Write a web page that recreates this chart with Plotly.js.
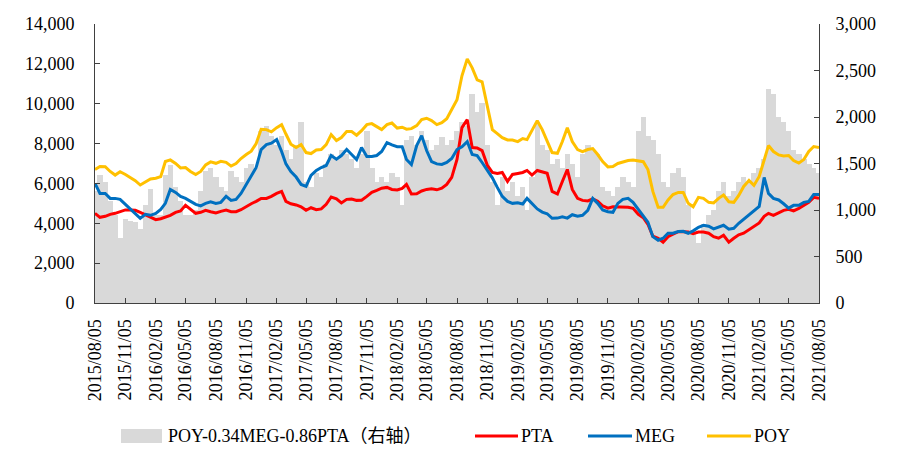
<!DOCTYPE html>
<html>
<head>
<meta charset="utf-8">
<script src="https://cdn.plot.ly/plotly-3.0.1.min.js"></script>
<style>html,body{margin:0;padding:0;background:#fff;}#chart{width:910px;height:467px;}</style>
</head>
<body>
<div id="chart"></div>
<script>
// Semi-monthly observation dates
const dates = [
"2015-08-05","2015-08-20","2015-09-05","2015-09-20","2015-10-05","2015-10-20","2015-11-05","2015-11-20","2015-12-05","2015-12-20",
"2016-01-05","2016-01-20","2016-02-05","2016-02-20","2016-03-05","2016-03-20","2016-04-05","2016-04-20","2016-05-05","2016-05-20",
"2016-06-05","2016-06-20","2016-07-05","2016-07-20","2016-08-05","2016-08-20","2016-09-05","2016-09-20","2016-10-05","2016-10-20",
"2016-11-05","2016-11-20","2016-12-05","2016-12-20","2017-01-05","2017-01-20","2017-02-05","2017-02-20","2017-03-05","2017-03-20",
"2017-04-05","2017-04-20","2017-05-05","2017-05-20","2017-06-05","2017-06-20","2017-07-05","2017-07-20","2017-08-05","2017-08-20",
"2017-09-05","2017-09-20","2017-10-05","2017-10-20","2017-11-05","2017-11-20","2017-12-05","2017-12-20","2018-01-05","2018-01-20",
"2018-02-05","2018-02-20","2018-03-05","2018-03-20","2018-04-05","2018-04-20","2018-05-05","2018-05-20","2018-06-05","2018-06-20",
"2018-07-05","2018-07-20","2018-08-05","2018-08-20","2018-09-05","2018-09-20","2018-10-05","2018-10-20","2018-11-05","2018-11-20",
"2018-12-05","2018-12-20","2019-01-05","2019-01-20","2019-02-05","2019-02-20","2019-03-05","2019-03-20","2019-04-05","2019-04-20",
"2019-05-05","2019-05-20","2019-06-05","2019-06-20","2019-07-05","2019-07-20","2019-08-05","2019-08-20","2019-09-05","2019-09-20",
"2019-10-05","2019-10-20","2019-11-05","2019-11-20","2019-12-05","2019-12-20","2020-01-05","2020-01-20","2020-02-05","2020-02-20",
"2020-03-05","2020-03-20","2020-04-05","2020-04-20","2020-05-05","2020-05-20","2020-06-05","2020-06-20","2020-07-05","2020-07-20",
"2020-08-05","2020-08-20","2020-09-05","2020-09-20","2020-10-05","2020-10-20","2020-11-05","2020-11-20","2020-12-05","2020-12-20",
"2021-01-05","2021-01-20","2021-02-05","2021-02-20","2021-03-05","2021-03-20","2021-04-05","2021-04-20","2021-05-05","2021-05-20",
"2021-06-05","2021-06-20","2021-07-05","2021-07-20","2021-08-05"];

const pta = [
4500,4300,4350,4450,4500,4600,4670,4670,4650,4550,
4420,4300,4180,4230,4300,4400,4550,4620,4900,4700,
4500,4550,4650,4580,4520,4600,4660,4580,4580,4680,
4850,4980,5100,5250,5250,5350,5500,5600,5100,4980,
4920,4830,4650,4780,4680,4720,4950,5320,5230,5020,
5200,5220,5150,5160,5350,5550,5650,5760,5800,5700,
5670,5750,5950,5470,5480,5620,5700,5730,5680,5760,
5950,6300,7200,8800,9200,7800,7780,7650,6900,6550,
6500,6550,6100,6450,6500,6550,6650,6420,6650,6580,
6510,5600,5470,6100,6700,5700,5250,5150,5120,5220,
5100,4880,4760,4830,4830,4830,4800,4750,4450,4280,
3950,3350,3250,3050,3330,3450,3580,3580,3560,3480,
3560,3560,3500,3330,3250,3400,3050,3250,3420,3500,
3680,3850,4020,4350,4500,4400,4530,4650,4700,4620,
4750,4900,5050,5300,5250];

const meg = [
6000,5500,5500,5250,5250,5200,4950,4700,4450,4250,
4450,4400,4500,4700,5000,5700,5550,5350,5250,5100,
4950,4870,5000,5080,5000,5050,5350,5150,5200,5500,
5950,6350,6800,7700,7950,8020,8200,7600,6980,6600,
6320,5950,5850,6400,6650,6800,6900,7400,7220,7400,
7700,7450,7200,7800,7350,7350,7400,7600,8050,7930,
7840,7840,7200,6950,7900,8400,7650,7100,6980,6950,
7050,7250,7700,7840,8100,7450,7400,7050,6650,6280,
5800,5350,5100,5000,5030,4970,5250,4980,4720,4560,
4480,4250,4260,4320,4260,4430,4350,4400,4650,5250,
5000,4670,4580,4550,5000,5200,5250,5050,4700,4330,
4050,3330,3150,3250,3500,3500,3590,3600,3500,3620,
3800,3900,3850,3720,3820,3900,3700,3750,4000,4200,
4440,4600,4850,6300,5500,5250,5170,4980,4760,4900,
4900,5050,5100,5450,5450];

const poy = [
6700,6850,6840,6600,6420,6590,6450,6300,6140,5920,
6060,6220,6260,6340,7100,7180,7000,6780,6800,6600,
6450,6600,6930,7080,7010,7110,7060,6870,7000,7250,
7450,7620,8000,8720,8700,8590,8800,8950,8480,7970,
7800,7950,7550,7500,7680,7700,7950,8450,8150,8300,
8600,8600,8420,8650,8950,9000,8850,8700,8950,9030,
8780,8820,8720,8750,8900,9200,9270,9150,8950,9050,
9250,9700,10200,11400,12250,11800,11200,11100,9900,8700,
8500,8300,8180,8180,8100,8250,8200,8700,9150,8700,
8100,7550,7510,8100,8800,8100,7700,7600,7700,7750,
7450,7100,6830,6850,7000,7070,7150,7180,7140,7090,
6700,5600,4800,4800,5170,5440,5550,5550,5000,4830,
5300,5250,5050,5020,5250,5420,5080,5050,5400,5850,
6150,5900,6350,7180,7900,7600,7430,7380,7400,7150,
7020,7200,7600,7850,7800];

// POY-0.34MEG-0.86PTA spread (right axis)
const spread = [
1200,1380,1300,1100,950,700,900,880,870,800,
1050,1230,950,950,1380,1480,1250,1100,950,950,
1000,1200,1420,1450,1350,1250,1200,1420,1350,1300,
1450,1500,1450,1850,1900,1800,1700,1800,1650,1550,
1700,1950,1300,1250,1400,1350,1500,1600,1550,1650,
1600,1550,1450,1600,1850,1450,1300,1350,1300,1400,
1350,1050,1750,1800,1700,1850,1750,1650,1700,1780,
1700,1750,1850,1950,1900,2250,2050,2150,1700,1300,
1050,1350,1200,1300,1150,1250,1000,1350,1950,1700,
1650,1500,1550,1450,1600,1500,1350,1600,1700,1650,
1600,1250,1200,1150,1250,1350,1300,1250,1850,2000,
1800,1750,1600,1300,1250,1400,1450,1350,1050,750,
650,850,950,1000,1200,1300,1150,1200,1300,1350,
1300,1400,1450,1550,2300,2250,2000,1950,1850,1650,
1600,1550,1500,1450,1400];

const tickLabels = ["2015/08/05","2015/11/05","2016/02/05","2016/05/05","2016/08/05","2016/11/05",
"2017/02/05","2017/05/05","2017/08/05","2017/11/05","2018/02/05","2018/05/05","2018/08/05",
"2018/11/05","2019/02/05","2019/05/05","2019/08/05","2019/11/05","2020/02/05","2020/05/05",
"2020/08/05","2020/11/05","2021/02/05","2021/05/05","2021/08/05"];

const seriesNames = ["POY-0.34MEG-0.86PTA（右轴）","PTA","MEG","POY"];
const colors = ["#d9d9d9","#ff0000","#0070c0","#ffc000"];

const FONT = "'Liberation Serif','Times New Roman','Noto Sans CJK SC',serif";
const axisColor = "#404040";
const DAY = 86400000;

const traces = [
  {type:"bar", x:dates, y:spread, yaxis:"y", width:16.6*DAY, name:seriesNames[0], marker:{color:colors[0], line:{width:0}}, showlegend:false},
  {type:"scatter", mode:"lines", x:dates, y:pta, yaxis:"y2", name:seriesNames[1], line:{color:colors[1], width:3}, showlegend:false},
  {type:"scatter", mode:"lines", x:dates, y:meg, yaxis:"y2", name:seriesNames[2], line:{color:colors[2], width:3}, showlegend:false},
  {type:"scatter", mode:"lines", x:dates, y:poy, yaxis:"y2", name:seriesNames[3], line:{color:colors[3], width:3}, showlegend:false}
];

// legend geometry in paper coordinates
const px = v => (v - 95) / 724;
const py = v => (303 - v) / 279;
const legY = 436;
const shapes = [
  {type:"rect", xref:"paper", yref:"paper", x0:px(121), x1:px(162), y0:py(429), y1:py(443), fillcolor:colors[0], line:{width:0}},
  {type:"line", xref:"paper", yref:"paper", x0:px(475), x1:px(518), y0:py(legY), y1:py(legY), line:{color:colors[1], width:3}},
  {type:"line", xref:"paper", yref:"paper", x0:px(588), x1:px(632), y0:py(legY), y1:py(legY), line:{color:colors[2], width:3}},
  {type:"line", xref:"paper", yref:"paper", x0:px(707), x1:px(751), y0:py(legY), y1:py(legY), line:{color:colors[3], width:3}}
];
const legTextX = [166, 519, 633, 752];
const annotations = seriesNames.map((n,i)=>({
  xref:"paper", yref:"paper", x:px(legTextX[i]), y:py(legY), xanchor:"left", yanchor:"middle",
  text:n, showarrow:false, font:{family:FONT, size:18, color:"#000"}
}));

const layout = {
  width:910, height:467,
  margin:{l:95, r:91, t:24, b:164, pad:0},
  paper_bgcolor:"#fff", plot_bgcolor:"#fff",
  bargap:0,
  font:{family:FONT, size:18, color:"#000"},
  xaxis:{
    type:"date", range:["2015-08-05","2021-08-05"],
    tickmode:"array", tickvals:tickLabels.map(s=>s.replace(/\//g,"-")), ticktext:tickLabels,
    tickangle:-90, ticks:"inside", ticklen:5, tickcolor:axisColor,
    showline:true, linecolor:axisColor, linewidth:1, showgrid:false, zeroline:false,
    tickfont:{family:FONT, size:18, color:"#000"}, ticklabelstandoff:8
  },
  yaxis:{
    side:"right", range:[0,3000], dtick:500, tickformat:",.0f",
    ticks:"inside", ticklen:5, tickcolor:axisColor,
    showline:true, linecolor:axisColor, linewidth:1, showgrid:false, zeroline:false,
    tickfont:{family:FONT, size:18, color:"#000"}, ticklabelstandoff:12
  },
  yaxis2:{
    overlaying:"y", side:"left", range:[0,14000], dtick:2000, tickformat:",.0f",
    ticks:"inside", ticklen:5, tickcolor:axisColor,
    showline:true, linecolor:axisColor, linewidth:1, showgrid:false, zeroline:false,
    tickfont:{family:FONT, size:18, color:"#000"}, ticklabelstandoff:16
  },
  shapes:shapes,
  annotations:annotations
};

Plotly.newPlot("chart", traces, layout, {displayModeBar:false, staticPlot:true});
</script>
</body>
</html>
